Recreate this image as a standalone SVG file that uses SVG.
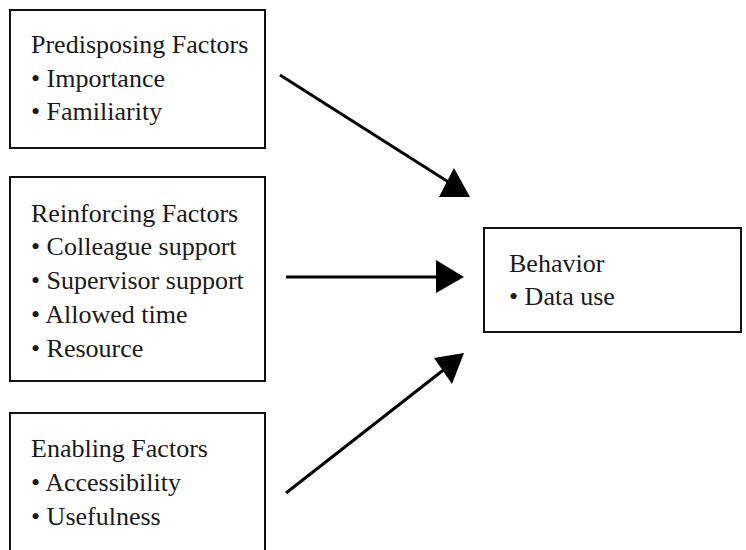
<svg xmlns="http://www.w3.org/2000/svg" width="746" height="550" viewBox="0 0 746 550">
  <style>
    .box { fill: #ffffff; stroke: #111111; stroke-width: 2; }
    .label { font-family: "Liberation Serif", "DejaVu Serif", serif; font-size: 26px; fill: #1a1a1a; }
    .edge { stroke: #000000; stroke-width: 3; fill: none; }
    .head { fill: #000000; stroke: none; }
  </style>
  <rect width="746" height="550" fill="#ffffff"/>

  <g id="predisposing">
    <rect class="box" x="10" y="10" width="255" height="138"/>
    <text class="label" x="31" y="53">Predisposing Factors</text>
    <text class="label" x="31" y="87">• Importance</text>
    <text class="label" x="31" y="120">• Familiarity</text>
  </g>

  <g id="reinforcing">
    <rect class="box" x="10" y="177" width="255" height="204"/>
    <text class="label" x="31" y="222">Reinforcing Factors</text>
    <text class="label" x="31" y="255">• Colleague support</text>
    <text class="label" x="31" y="289">• Supervisor support</text>
    <text class="label" x="31" y="323">• Allowed time</text>
    <text class="label" x="31" y="357">• Resource</text>
  </g>

  <g id="enabling">
    <rect class="box" x="10" y="413" width="255" height="160"/>
    <text class="label" x="31" y="457">Enabling Factors</text>
    <text class="label" x="31" y="491">• Accessibility</text>
    <text class="label" x="31" y="525">• Usefulness</text>
  </g>

  <g id="behavior">
    <rect class="box" x="484" y="228" width="257" height="104"/>
    <text class="label" x="509" y="272">Behavior</text>
    <text class="label" x="509" y="305">• Data use</text>
  </g>

  <g id="connectors">
    <line class="edge" x1="280" y1="75" x2="450" y2="183"/>
    <polygon class="head" points="439,197 470,197 454,168"/>
    <line class="edge" x1="286" y1="277" x2="440" y2="277"/>
    <polygon class="head" points="436,260 436,293 464,277"/>
    <line class="edge" x1="286" y1="493" x2="446" y2="368"/>
    <polygon class="head" points="434,358 452,384 464,353"/>
  </g>
</svg>
